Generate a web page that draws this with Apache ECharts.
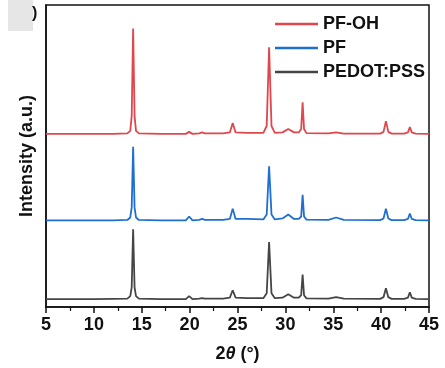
<!DOCTYPE html>
<html><head><meta charset="utf-8">
<script src="https://cdn.jsdelivr.net/npm/echarts@6/dist/echarts.min.js"></script>
<style>html,body{margin:0;padding:0;background:#fff}#c{width:445px;height:368px}</style>
</head><body><div id="c"></div>
<script>
// 2θ positions (degrees)
const twoTheta = [5,7,10,12,13.5,13.8,13.95,14.1,14.25,14.4,14.7,17,19.6,19.95,20.3,21.0,21.3,21.6,23.5,24.2,24.5,24.8,26,27.7,28.05,28.3,28.55,28.9,29.7,30.3,30.9,31.4,31.65,31.8,31.95,32.2,34.5,35.3,36.1,39.9,40.25,40.5,40.75,41.1,42.4,42.8,43.0,43.2,43.6,45];
// intensities (a.u., relative to each trace's own baseline)
const pfOH  = [0,0,0,0,0.5,3,18,107,18,3,0.5,0,0,2,0,0.5,1.5,0.5,0.5,1.5,11,1.5,1,1,8,88,8,1,1.5,5,1.5,1.5,5,32,5,0.8,0.5,1.5,0.3,0.3,2,13,2,0.3,0.3,1.5,7,1.5,0.3,0];
const pf    = [0,0,0,0,0.5,3,13,75,13,3,0.5,0,0,4,0,0.5,1.5,0.5,0.5,1.5,12,1.5,1.5,1,6,55,6,1,2,6,1.5,1.5,4,26,4,0.8,0.5,3,0.5,0.3,2,12,2,0.3,0.3,1.5,7,1.5,0.3,0];
const pedot = [0,0,0,0.3,0.5,3,12,71,12,3,0.5,0,0,3,0,0.5,1,0.5,0.5,1.5,9,1.5,1,1,6,58,6,1,1.5,5,1.5,1.5,4,25,4,0.8,0.5,2,0.5,0.3,2,11,2,0.3,0.3,1.5,7,1.5,0.3,0];
// vertical stacking offsets of the traces
const offsets = {'PF-OH':176,'PF':88,'PEDOT:PSS':8};
const names = ['PF-OH','PF','PEDOT:PSS'];
const colors = ['#e0474c','#1f6fd1','#454545'];
const xTicks = [5,10,15,20,25,30,35,40,45];

const vals = {'PF-OH':pfOH,'PF':pf,'PEDOT:PSS':pedot};
const chart = echarts.init(document.getElementById('c'));
chart.setOption({
  animation:false,
  grid:{left:46,right:16,top:5,bottom:56,show:true,borderColor:'#111',borderWidth:1.5},
  legend:{
    data:names.map(n=>({name:n,icon:'rect'})), orient:'vertical', left:270, top:10, itemWidth:43, itemHeight:2.5, itemGap:6,
    textStyle:{fontFamily:'Liberation Sans',fontWeight:'bold',fontSize:18,color:'#111',lineHeight:18}
  },
  xAxis:{
    type:'value', min:xTicks[0], max:xTicks[xTicks.length-1], interval:5,
    axisLine:{show:true,lineStyle:{color:'#111',width:1.5}},
    axisTick:{show:true,inside:false,length:6,lineStyle:{color:'#111',width:1.5}},
    minorTick:{show:true,splitNumber:2,length:4,lineStyle:{color:'#111',width:1.2}},
    splitLine:{show:false},
    axisLabel:{fontFamily:'Liberation Sans',fontWeight:'bold',fontSize:18,color:'#111',margin:9},
    name:'{a|2}{b|θ}{a| (°)}', nameLocation:'middle', nameGap:38,
    nameTextStyle:{rich:{
      a:{fontFamily:'Liberation Sans',fontWeight:'bold',fontSize:18,color:'#111'},
      b:{fontFamily:'Liberation Sans',fontWeight:'bold',fontStyle:'italic',fontSize:18,color:'#111'}
    }}
  },
  yAxis:{
    type:'value', min:0, max:307,
    axisLine:{show:true,lineStyle:{color:'#111',width:1.5}},
    axisTick:{show:false}, axisLabel:{show:false}, splitLine:{show:false},
    name:'Intensity (a.u.)', nameLocation:'middle', nameRotate:90, nameGap:10,
    nameTextStyle:{fontFamily:'Liberation Sans',fontWeight:'bold',fontSize:18,color:'#111'}
  },
  series: names.map((n,i)=>({
    name:n, type:'line', symbol:'none', color:colors[i],
    lineStyle:{width:1.8,color:colors[i]},
    data: twoTheta.map((t,j)=>[t, vals[n][j]+offsets[n]])
  })),
  graphic:[
    {type:'rect',shape:{x:8,y:0,width:25,height:31},style:{fill:'#e6e6e6'}},
    {type:'text',left:32,top:6,style:{text:')',font:'bold 16px Liberation Sans',fill:'#111'}}
  ]
});
</script></body></html>
